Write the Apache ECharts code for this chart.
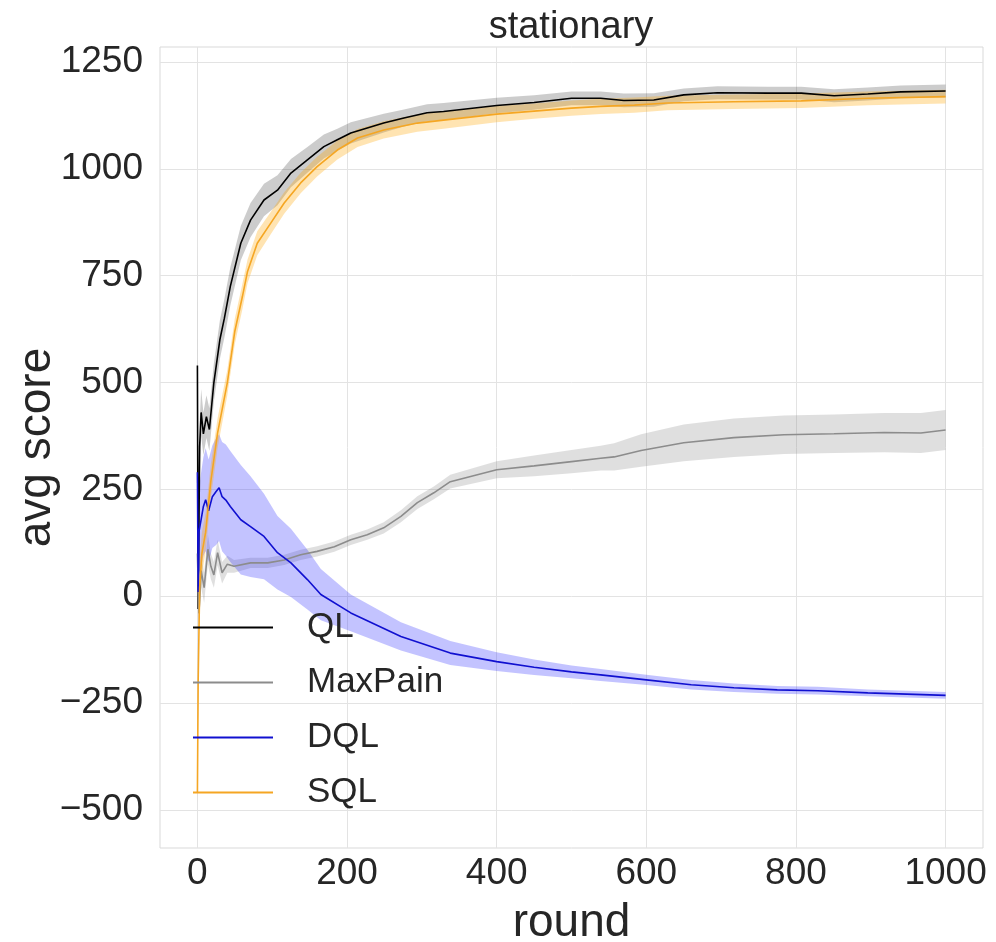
<!DOCTYPE html>
<html>
<head>
<meta charset="utf-8">
<script src="https://cdn.jsdelivr.net/npm/echarts@6/dist/echarts.min.js"></script>
<style>
html,body{margin:0;padding:0;background:#fff;}
#c{width:996px;height:942px;}
</style>
</head>
<body>
<div id="c"></div>
<script>
// ---- data ----
var xTicks = [0, 200, 400, 600, 800, 1000];
var yTicks = [-500, -250, 0, 250, 500, 750, 1000, 1250];

var qlRounds = [0,1,3,5,8,12,16,22,30,36,44,58,71,89,107,125,147,169,187,205,249,276,307,329,400,450,500,539,570,610,650,695,762,807,851,896,940,1000];
var qlMean   = [540,-30,350,430,380,420,390,500,600,650,725,826,880,927,950,990,1021,1052,1068,1084,1107,1119,1131,1134,1148,1155,1165,1165,1160,1161,1173,1178,1177,1177,1171,1175,1180,1182];
var qlSpread = [300,40,60,55,50,50,50,45,45,45,45,40,40,38,35,33,30,28,26,25,22,20,20,20,18,17,16,16,16,16,15,15,15,15,15,15,15,15];

var mpRounds = [0,2,5,9,14,18,22,27,33,40,49,71,94,116,138,160,183,205,227,249,272,294,316,338,400,450,500,539,557,593,650,717,784,851,918,967,1000];
var mpMean   = [100,-40,60,20,110,70,50,102,55,75,70,78,78,85,97,105,116,132,144,160,187,219,242,268,296,305,315,323,326,341,359,371,378,380,383,382,389];
var mpSpread = [40,40,40,35,35,30,30,30,25,20,15,12,12,12,12,12,12,12,12,13,14,15,15,16,20,24,27,29,32,38,43,45,45,45,46,47,47];

var dqlRounds = [0,1,2,5,8,11,15,20,25,29,33,38,44,58,71,89,107,125,147,165,205,272,338,400,450,500,539,597,660,717,775,829,896,1000];
var dqlMean   = [290,10,150,180,210,226,200,233,245,254,233,225,210,179,163,140,102,78,39,4,-39,-94,-133,-153,-166,-177,-184,-195,-207,-214,-219,-221,-226,-232];
var dqlSpread = [100,80,100,110,115,120,120,120,125,125,128,130,130,128,118,100,86,80,70,60,43,33,28,22,18,15,14,12,11,10,9,9,8,8];

var sqlRounds = [0,1,3,6,11,18,27,40,50,60,67,80,98,116,138,160,187,214,249,294,329,400,450,500,539,584,628,717,807,896,1000];
var sqlMean   = [-460,-200,20,100,150,270,382,500,620,700,760,826,873,920,967,1005,1044,1072,1091,1107,1114,1128,1135,1142,1146,1149,1154,1157,1159,1165,1169];
var sqlSpread = [25,60,60,50,45,40,35,30,30,30,28,28,26,25,24,23,22,21,20,20,20,19,18,18,18,18,17,17,17,16,16];

var seriesNames = ['QL', 'MaxPain', 'DQL', 'SQL'];
// -------------------------------------------------

var FONT = '"Liberation Sans", Arial, Helvetica, sans-serif';
var TXT = '#262626';

function pairs(rounds, vals) {
  return rounds.map(function (r, i) { return [r, vals[i]]; });
}

function band(name, rounds, mean, spread, fill) {
  var data = rounds.map(function (r, i) { return [r, mean[i] + spread[i], mean[i] - spread[i]]; });
  return {
    type: 'custom',
    name: name + ' band',
    silent: true,
    z: 1,
    data: data,
    encode: { x: 0, y: [1, 2] },
    renderItem: function (params, api) {
      if (params.dataIndex !== 0) return null;
      var up = data.map(function (d) { return api.coord([d[0], d[1]]); });
      var lo = data.map(function (d) { return api.coord([d[0], d[2]]); }).reverse();
      return { type: 'polygon', shape: { points: up.concat(lo) }, style: { fill: fill } };
    }
  };
}

function line(name, rounds, mean, color, width) {
  return {
    type: 'line',
    name: name,
    data: pairs(rounds, mean),
    symbol: 'none',
    showSymbol: false,
    z: 3,
    color: color,
    itemStyle: { color: color },
    lineStyle: { color: color, width: width },
    emphasis: { disabled: true }
  };
}

var chart = echarts.init(document.getElementById('c'), null, { renderer: 'canvas' });

var fmt = function (v) { return v < 0 ? '\u2212' + Math.abs(v) : String(v); };

chart.setOption({
  animation: false,
  backgroundColor: '#ffffff',
  textStyle: { fontFamily: FONT },
  title: {
    text: 'stationary',
    left: 571,
    textAlign: 'center',
    top: 9,
    padding: 0,
    textStyle: { fontFamily: FONT, fontSize: 38, fontWeight: 'normal', color: TXT }
  },
  grid: {
    left: 160, right: 13, top: 47, bottom: 94,
    outerBoundsMode: 'none',
    containLabel: false,
    show: true, borderColor: '#d9d9d9', borderWidth: 1, backgroundColor: 'transparent'
  },
  legend: {
    data: seriesNames,
    orient: 'vertical',
    left: 193,
    top: 610,
    padding: 0,
    icon: 'rect',
    itemWidth: 80,
    itemHeight: 2,
    itemGap: 20,
    textStyle: { fontFamily: FONT, fontSize: 35, color: TXT, lineHeight: 35, padding: [0, 0, 0, 29] }
  },
  xAxis: {
    type: 'value',
    min: -50, max: 1050,
    name: 'round',
    nameLocation: 'middle',
    nameGap: 52,
    nameMoveOverlap: false,
    nameTextStyle: { fontFamily: FONT, fontSize: 46, color: TXT },
    axisLine: { show: false },
    axisTick: { show: false, customValues: xTicks },
    axisLabel: { customValues: xTicks, fontFamily: FONT, fontSize: 37, color: TXT, margin: 7, formatter: fmt },
    splitLine: { show: true, lineStyle: { color: '#e3e3e3', width: 1 } }
  },
  yAxis: {
    type: 'value',
    min: -589, max: 1285,
    name: 'avg score',
    nameLocation: 'middle',
    nameGap: 100,
    nameMoveOverlap: false,
    nameTextStyle: { fontFamily: FONT, fontSize: 46, color: TXT },
    axisLine: { show: false },
    axisTick: { show: false, customValues: yTicks },
    axisLabel: { customValues: yTicks, fontFamily: FONT, fontSize: 37, color: TXT, margin: 17, formatter: fmt },
    splitLine: { show: true, lineStyle: { color: '#e3e3e3', width: 1 } }
  },
  series: [
    band('QL', qlRounds, qlMean, qlSpread, 'rgba(0,0,0,0.2)'),
    band('MaxPain', mpRounds, mpMean, mpSpread, 'rgba(128,128,128,0.25)'),
    band('DQL', dqlRounds, dqlMean, dqlSpread, 'rgba(40,40,255,0.28)'),
    band('SQL', sqlRounds, sqlMean, sqlSpread, 'rgba(255,165,0,0.3)'),
    line('QL', qlRounds, qlMean, '#000000', 1.6),
    line('MaxPain', mpRounds, mpMean, '#8c8c8c', 1.6),
    line('DQL', dqlRounds, dqlMean, '#1010d0', 1.6),
    line('SQL', sqlRounds, sqlMean, '#f5a623', 1.6)
  ]
});
</script>
</body>
</html>
